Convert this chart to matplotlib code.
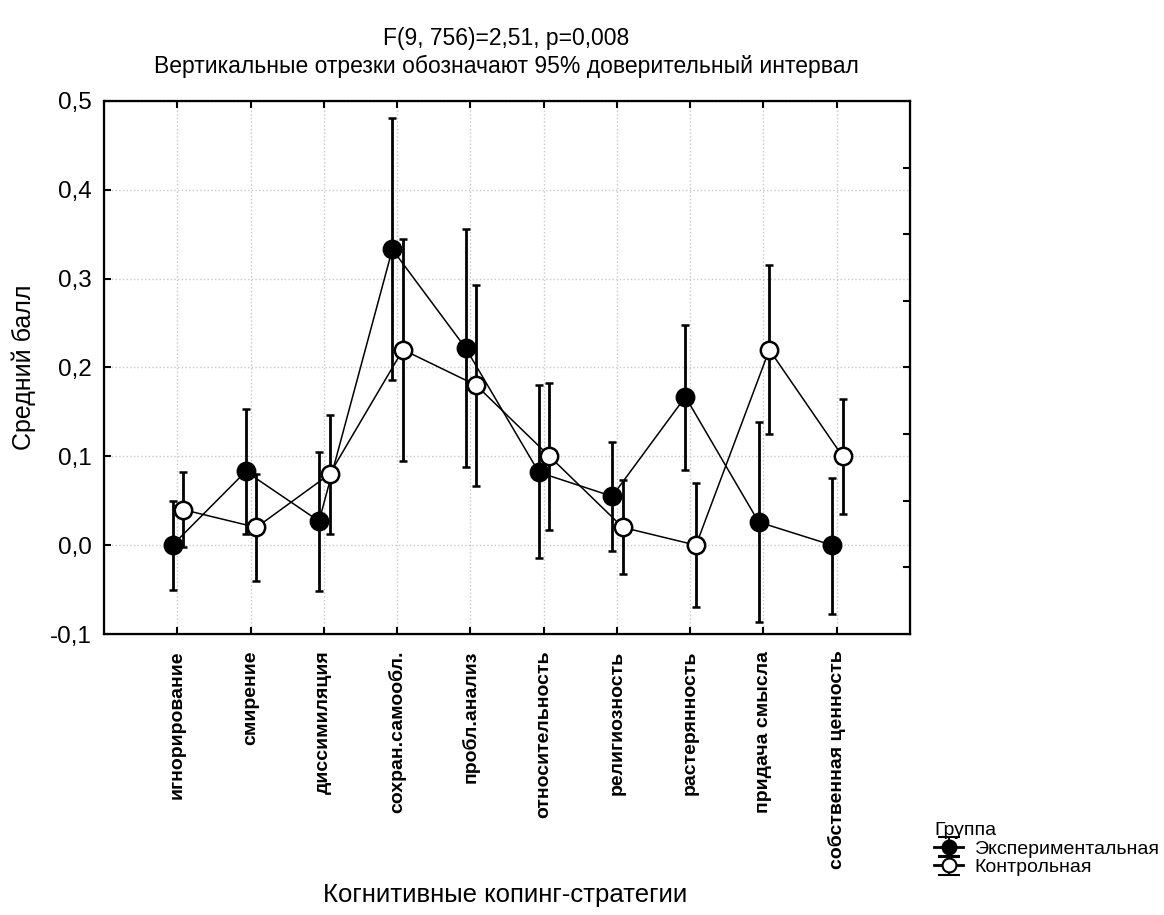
import numpy as np
import matplotlib.pyplot as plt

plt.rcParams['font.family'] = ['Liberation Sans', 'DejaVu Sans']

# категории (когнитивные копинг-стратегии)
categories = ['игнорирование', 'смирение', 'диссимиляция', 'сохран.самообл.',
              'пробл.анализ', 'относительность', 'религиозность',
              'растерянность', 'придача смысла', 'собственная ценность']

# Экспериментальная группа: среднее и границы 95% ДИ
exp_mean = [0.000, 0.083, 0.027, 0.333, 0.222, 0.082, 0.055, 0.167, 0.026, 0.000]
exp_low = [-0.050, 0.013, -0.052, 0.186, 0.088, -0.015, -0.007, 0.085, -0.086, -0.077]
exp_high = [0.050, 0.153, 0.105, 0.481, 0.356, 0.180, 0.116, 0.248, 0.139, 0.076]

# Контрольная группа
ctl_mean = [0.040, 0.020, 0.080, 0.220, 0.180, 0.100, 0.020, 0.000, 0.220, 0.100]
ctl_low = [-0.002, -0.040, 0.013, 0.095, 0.067, 0.017, -0.033, -0.070, 0.125, 0.035]
ctl_high = [0.082, 0.080, 0.146, 0.345, 0.293, 0.183, 0.073, 0.070, 0.315, 0.165]

y_ticks = [-0.1, 0.0, 0.1, 0.2, 0.3, 0.4, 0.5]
y_ticklabels = ['-0,1', '0,0', '0,1', '0,2', '0,3', '0,4', '0,5']

W, H = 1164, 915
fig = plt.figure(figsize=(W / 100, H / 100), dpi=100)
ax = fig.add_axes([104 / W, 1 - 634 / H, (910 - 104) / W, (634 - 101) / H])

x = np.arange(len(categories))


def draw_group(xpos, mean, low, high, face, z):
    mean = np.array(mean)
    yerr = [mean - np.array(low), np.array(high) - mean]
    ax.errorbar(xpos, mean, yerr=yerr, fmt='-o', color='black',
                mfc=face, mec='black', mew=1.8, ms=12.5,
                lw=1.1, elinewidth=2.0, capsize=2.8, capthick=1.6, zorder=z)


draw_group(x - 0.065, exp_mean, exp_low, exp_high, 'black', 3)
draw_group(x + 0.08, ctl_mean, ctl_low, ctl_high, 'white', 4)

# значки для легенды: широкие засечки, как в оригинале
h1 = ax.errorbar([np.nan], [np.nan], yerr=[[0.1]], fmt='-o', color='black',
                 mfc='black', mec='black', mew=1.5, ms=10, lw=2.0,
                 elinewidth=1.5, capsize=8, capthick=2.0,
                 label='Экспериментальная')
h2 = ax.errorbar([np.nan], [np.nan], yerr=[[0.1]], fmt='-o', color='black',
                 mfc='white', mec='black', mew=1.5, ms=10, lw=2.0,
                 elinewidth=1.5, capsize=8, capthick=2.0,
                 label='Контрольная')

ax.set_xlim(-1, len(categories))
ax.set_ylim(-0.1, 0.5)
ax.set_xticks(x)
ax.set_xticklabels(categories, rotation=90, fontsize=14, fontweight='bold')
ax.set_yticks(y_ticks)
ax.set_yticklabels(y_ticklabels, fontsize=17.5)
ax.tick_params(axis='both', direction='in', length=5, width=1.5, top=True)
ax.tick_params(axis='x', pad=12)
ax.tick_params(axis='y', pad=9)
ax.grid(True, color='#c8c8c8', linestyle=':', linewidth=1.0)
for sp in ax.spines.values():
    sp.set_linewidth(1.6)

# правая ось с собственными делениями
ax2 = ax.twinx()
ax2.set_ylim(-0.1, 0.5)
ax2.set_yticks(np.linspace(-0.1, 0.5, 9))
ax2.set_yticklabels([])
ax2.tick_params(axis='y', direction='in', length=5, width=1.5)

ax.set_ylabel('Средний балл', fontsize=18, labelpad=10)
fig.text(505 / W, 1 - 895 / H, 'Когнитивные копинг-стратегии', fontsize=18.5,
         ha='center', va='center')

fig.text(506 / W, 1 - 38 / H, 'F(9, 756)=2,51, p=0,008', fontsize=16.5,
         ha='center', va='center')
fig.text(506 / W, 1 - 66 / H,
         'Вертикальные отрезки обозначают 95% доверительный интервал',
         fontsize=16.5, ha='center', va='center')

leg = fig.legend(handles=[h1, h2], loc='upper left',
                 bbox_to_anchor=(934 / W, 1 - 822 / H), frameon=False,
                 title='Группа', alignment='left', fontsize=14,
                 title_fontsize=14, handlelength=1.5, handletextpad=0.6,
                 borderpad=0, borderaxespad=0, labelspacing=0.05)

fig.savefig('out.png', dpi=100)
